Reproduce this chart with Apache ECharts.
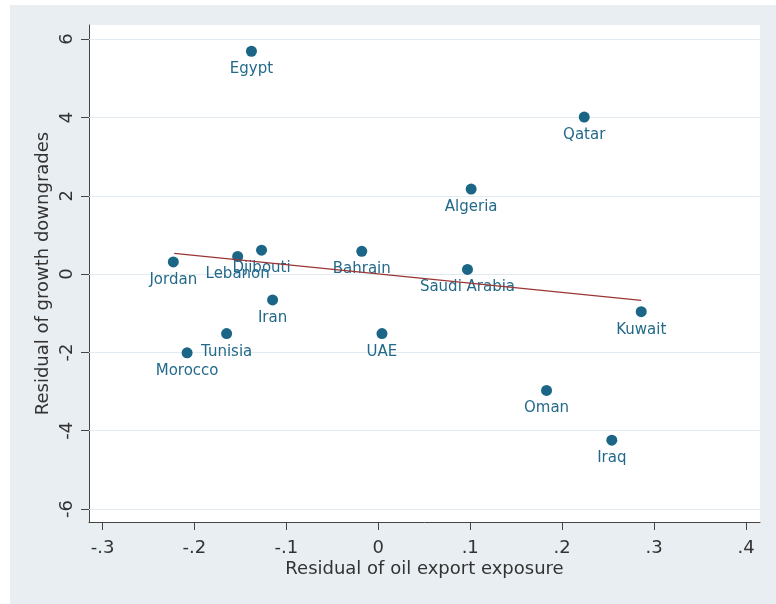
<!DOCTYPE html>
<html>
<head>
<meta charset="utf-8">
<script src="https://cdn.jsdelivr.net/npm/echarts@6/dist/echarts.min.js"></script>
<style>
  html, body { margin: 0; padding: 0; background: #ffffff; }
  #wrap { position: absolute; left: 10px; top: 5px; width: 766px; height: 599px; }
</style>
</head>
<body>
<div id="wrap"></div>
<script>
// Countries and their residuals (x: oil export exposure, y: growth downgrades)
const countries = ['Egypt', 'Qatar', 'Algeria', 'Saudi Arabia', 'Kuwait', 'Jordan', 'Lebanon',
  'Djibouti', 'Bahrain', 'Iran', 'Tunisia', 'Morocco', 'UAE', 'Oman', 'Iraq'];
const oilResid = [-0.138, 0.224, 0.101, 0.097, 0.286, -0.223, -0.153,
  -0.127, -0.018, -0.115, -0.165, -0.208, 0.004, 0.183, 0.254];
const growthResid = [5.69, 4.01, 2.17, 0.12, -0.96, 0.31, 0.45,
  0.61, 0.58, -0.66, -1.52, -2.01, -1.52, -2.97, -4.24];

// Linear fit endpoints
const fitX = [-0.222, 0.286];
const fitY = [0.53, -0.67];

// Axis ticks
const xTicks = [-0.3, -0.2, -0.1, 0, 0.1, 0.2, 0.3, 0.4];
const xTickLabels = ['-.3', '-.2', '-.1', '0', '.1', '.2', '.3', '.4'];
const yTicks = [-6, -4, -2, 0, 2, 4, 6];
const yTickLabels = ['-6', '-4', '-2', '0', '2', '4', '6'];

const FONT = '"DejaVu Sans", "Liberation Sans", Arial, sans-serif';
const TEXT = '#333333';
const AXIS = '#444444';

const chart = echarts.init(document.getElementById('wrap'), null, { renderer: 'canvas' });

const points = countries.map((c, i) => ({ name: c, value: [oilResid[i], growthResid[i]] }));
const fitLine = fitX.map((x, i) => [x, fitY[i]]);

function tickLabel(values, labels) {
  return v => {
    const i = values.findIndex(t => Math.abs(t - v) < 1e-9);
    return i >= 0 ? labels[i] : '';
  };
}

chart.setOption({
  backgroundColor: '#e8eef2',
  animation: false,
  grid: {
    left: 79, right: 16, top: 20, bottom: 82,
    show: true, backgroundColor: '#ffffff', borderWidth: 0
  },
  xAxis: {
    type: 'value',
    min: -0.3147, max: 0.4152,
    name: 'Residual of oil export exposure',
    nameLocation: 'middle',
    nameGap: 38,
    nameMoveOverlap: false,
    nameTextStyle: { fontFamily: FONT, fontSize: 18, color: TEXT },
    axisLine: { show: true, onZero: false, lineStyle: { color: AXIS, width: 1 } },
    axisTick: { show: true, length: 8, customValues: xTicks, lineStyle: { color: AXIS } },
    axisLabel: {
      customValues: xTicks, margin: 17,
      fontFamily: FONT, fontSize: 18, color: TEXT,
      formatter: tickLabel(xTicks, xTickLabels)
    },
    splitLine: { show: false }
  },
  yAxis: {
    type: 'value',
    min: -6.33, max: 6.36,
    name: 'Residual of growth downgrades',
    nameLocation: 'middle',
    nameGap: 37,
    nameMoveOverlap: false,
    nameTextStyle: { fontFamily: FONT, fontSize: 18, color: TEXT },
    axisLine: { show: true, onZero: false, lineStyle: { color: AXIS, width: 1 } },
    axisTick: { show: true, length: 8, customValues: yTicks, lineStyle: { color: AXIS } },
    axisLabel: {
      customValues: yTicks, rotate: 90, margin: 13,
      fontFamily: FONT, fontSize: 18, color: TEXT,
      formatter: tickLabel(yTicks, yTickLabels)
    },
    splitLine: { show: false }
  },
  series: [
    {
      // horizontal grid lines at the y ticks
      type: 'line',
      data: [],
      z: 1,
      silent: true,
      markLine: {
        z: 1,
        silent: true,
        symbol: 'none',
        label: { show: false },
        lineStyle: { color: '#e2ebf1', width: 1, type: 'solid' },
        data: yTicks.map(v => ({ yAxis: v }))
      }
    },
    {
      type: 'scatter',
      data: points,
      z: 3,
      symbol: 'circle',
      symbolSize: 11,
      itemStyle: { color: '#1b6586', opacity: 1 },
      label: {
        show: true,
        position: 'bottom',
        distance: 5,
        opacity: 1,
        formatter: p => p.name,
        fontFamily: FONT, fontSize: 15, color: '#236a8a'
      }
    },
    {
      type: 'line',
      data: fitLine,
      z: 4,
      symbol: 'none',
      silent: true,
      lineStyle: { color: '#9a3535', width: 1.3 }
    }
  ]
});
</script>
</body>
</html>
